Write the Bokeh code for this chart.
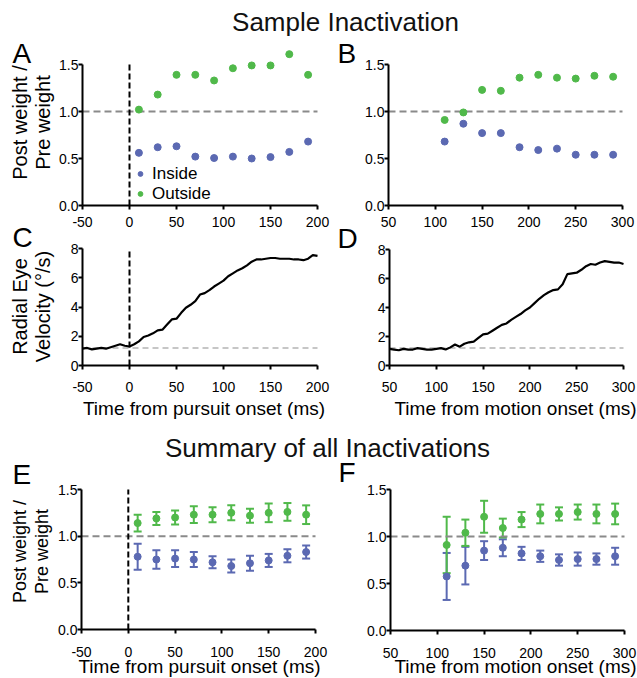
import math
from bokeh.plotting import figure
from bokeh.models import (Range1d, FixedTicker, NumeralTickFormatter, Label, LinearAxis,
                          Legend, LegendItem, Whisker, ColumnDataSource, TeeHead)
from bokeh.embed import file_html
from bokeh.resources import INLINE

# ---------------- data ----------------
# Panel A: sample inactivation, aligned on pursuit onset
pursuit_bins = [10, 30, 50, 70, 90, 110, 130, 150, 170, 190]
sample_pursuit_inside = [0.56, 0.62, 0.63, 0.52, 0.505, 0.52, 0.50, 0.515, 0.57, 0.68]
sample_pursuit_outside = [1.02, 1.18, 1.39, 1.39, 1.33, 1.46, 1.49, 1.49, 1.61, 1.39]

# Panel B: sample inactivation, aligned on motion onset
motion_bins = [110, 130, 150, 170, 190, 210, 230, 250, 270, 290]
sample_motion_inside = [0.68, 0.87, 0.77, 0.77, 0.62, 0.59, 0.605, 0.54, 0.54, 0.54]
sample_motion_outside = [0.91, 0.99, 1.23, 1.22, 1.36, 1.39, 1.36, 1.35, 1.38, 1.37]

# Panel C: radial eye velocity vs time from pursuit onset
vel_pursuit_time = list(range(-50, 201, 5))
vel_pursuit = [1.15, 1.2, 1.1, 1.15, 1.2, 1.15, 1.25, 1.35, 1.45, 1.35,
               1.3, 1.45, 1.65, 1.95, 2.05, 2.2, 2.4, 2.45, 2.8, 3.15,
               3.2, 3.6, 3.95, 4.15, 4.4, 4.85, 4.95, 5.15, 5.4, 5.6,
               5.8, 6.1, 6.3, 6.5, 6.65, 6.85, 7.1, 7.25, 7.25, 7.3,
               7.35, 7.35, 7.3, 7.3, 7.3, 7.25, 7.25, 7.2, 7.3, 7.55, 7.5]

# Panel D: radial eye velocity vs time from motion onset
vel_motion_time = list(range(50, 301, 5))
vel_motion = [1.15, 1.1, 1.05, 1.15, 1.1, 1.1, 1.2, 1.15, 1.1, 1.1,
              1.15, 1.2, 1.1, 1.25, 1.45, 1.3, 1.5, 1.6, 1.65, 1.9,
              2.15, 2.2, 2.4, 2.6, 2.8, 2.9, 3.15, 3.35, 3.55, 3.8,
              4.0, 4.3, 4.6, 4.85, 5.05, 5.2, 5.25, 5.6, 6.3, 6.35,
              6.4, 6.6, 6.85, 7.0, 6.95, 7.1, 7.2, 7.15, 7.1, 7.1, 7.0]
baseline_velocity = 1.2

# Panel E: summary, pursuit onset (mean, error)
sum_pursuit_inside = [0.78, 0.75, 0.76, 0.75, 0.72, 0.68, 0.71, 0.74, 0.79, 0.83]
sum_pursuit_inside_err = [0.14, 0.10, 0.09, 0.08, 0.065, 0.07, 0.08, 0.07, 0.07, 0.07]
sum_pursuit_outside = [1.14, 1.19, 1.20, 1.23, 1.23, 1.25, 1.22, 1.25, 1.26, 1.23]
sum_pursuit_outside_err = [0.09, 0.07, 0.075, 0.09, 0.08, 0.08, 0.075, 0.10, 0.095, 0.10]

# Panel F: summary, motion onset (mean, error)
sum_motion_inside = [0.575, 0.69, 0.85, 0.88, 0.82, 0.79, 0.75, 0.76, 0.76, 0.79]
sum_motion_inside_err = [0.25, 0.20, 0.10, 0.09, 0.07, 0.06, 0.06, 0.07, 0.06, 0.09]
sum_motion_outside = [0.91, 1.04, 1.21, 1.09, 1.18, 1.24, 1.24, 1.26, 1.24, 1.24]
sum_motion_outside_err = [0.30, 0.14, 0.17, 0.10, 0.08, 0.10, 0.07, 0.08, 0.10, 0.11]

pursuit_ticks = [-50, 0, 50, 100, 150, 200]
motion_ticks = [50, 100, 150, 200, 250, 300]
weight_ticks = [0.0, 0.5, 1.0, 1.5]
velocity_ticks = [0, 2, 4, 6, 8]
pursuit_span = (-50, 200)
motion_span = (50, 300)
weight_span = (0, 1.5)
velocity_span = (0, 8)
onset = 0
unity = 1.0

# ---------------- style / geometry ----------------
FONT = "Liberation Sans"
BLUE = "#5b69b2"
GREEN = "#50b94a"
GRAY = "#8a8a8a"
LIGHT = "#b4b4b4"
W, H = 637, 678

# panel frames in page pixels: (x at span start, x at span end, y(px) at span bottom, y(px) at span top)
FRAMES = {
    "A": (82, 317, 205, 64),
    "B": (388, 622, 205, 64),
    "C": (82, 317, 365, 248),
    "D": (389, 623, 365, 249),
    "E": (81, 315, 629, 489),
    "F": (390, 624, 630, 489),
}

p = figure(width=W, height=H, x_range=Range1d(0, W), y_range=Range1d(0, H),
           x_axis_type=None, y_axis_type=None, output_backend="svg", toolbar_location=None,
           title_location=None, min_border=0, outline_line_color=None)


def add_panel(name, xspan, yspan, xticks, yticks, yfmt, xstand):
    pxa, pxb, pya, pyb = FRAMES[name]
    xa, xb = xspan
    ya, yb = yspan
    sx = (pxb - pxa) / (xb - xa)
    sy = (pya - pyb) / (yb - ya)
    p.extra_x_ranges[name] = Range1d(xa - pxa / sx, xb + (W - pxb) / sx)
    p.extra_y_ranges[name] = Range1d(ya - (H - pya) / sy, yb + pyb / sy)
    xax = LinearAxis(x_range_name=name, y_range_name=name, fixed_location=ya, bounds=xspan,
                     ticker=FixedTicker(ticks=xticks), formatter=NumeralTickFormatter(format="0"))
    yax = LinearAxis(x_range_name=name, y_range_name=name, fixed_location=xa, bounds=yspan,
                     ticker=FixedTicker(ticks=yticks), formatter=NumeralTickFormatter(format=yfmt))
    for ax, st in ((xax, xstand), (yax, 0)):
        ax.axis_line_width = 2
        ax.axis_line_color = "black"
        ax.major_tick_line_width = 2
        ax.major_tick_line_color = "black"
        ax.major_tick_out = 4
        ax.major_tick_in = 0
        ax.minor_tick_line_color = None
        ax.major_label_text_font = FONT
        ax.major_label_text_font_size = "14px"
        ax.major_label_text_color = "black"
        ax.major_label_standoff = st
    p.add_layout(xax, "below")
    p.add_layout(yax, "left")
    return dict(x_range_name=name, y_range_name=name)


def text(txt, px, py, size, align="left", angle=0.0, lh=1.2, color="black"):
    p.add_layout(Label(x=px, y=H - py, text=txt, angle=angle, text_font=FONT,
                       text_font_size=size, text_color=color, text_align=align,
                       text_baseline="middle", text_line_height=lh))


def hline(rn, level, xspan, color, width, dash):
    p.segment(x0=[xspan[0]], y0=[level], x1=[xspan[1]], y1=[level], line_color=color,
              line_width=width, line_dash=dash, **rn)


def onset_line(rn, yspan):
    p.segment(x0=[onset], y0=[yspan[0]], x1=[onset], y1=[yspan[1]], line_color="black",
              line_width=2, line_dash="6 3", **rn)


def summary(rn, bins, mean, err, color):
    src = ColumnDataSource(dict(x=bins, y=mean,
                                upper=[m + e for m, e in zip(mean, err)],
                                lower=[m - e for m, e in zip(mean, err)]))
    p.add_layout(Whisker(base="x", upper="upper", lower="lower", source=src,
                         line_color=color, line_width=2,
                         upper_head=TeeHead(size=8, line_color=color, line_width=2),
                         lower_head=TeeHead(size=8, line_color=color, line_width=2), **rn))
    p.scatter("x", "y", source=src, size=7, color=color, **rn)


# ---------------- A ----------------
rA = add_panel("A", pursuit_span, weight_span, pursuit_ticks, weight_ticks, "0.0", 7)
hline(rA, unity, pursuit_span, GRAY, 2, "7 4")
onset_line(rA, weight_span)
rin = p.scatter(pursuit_bins, sample_pursuit_inside, size=7, color=BLUE, **rA)
rout = p.scatter(pursuit_bins, sample_pursuit_outside, size=7, color=GREEN, **rA)
p.add_layout(Legend(items=[LegendItem(label="Inside", renderers=[rin]),
                           LegendItem(label="Outside", renderers=[rout])],
                    location=(134, H - 203.5), border_line_color=None, background_fill_alpha=0,
                    padding=0, margin=0, spacing=0, glyph_width=12, glyph_height=17,
                    label_height=17, label_standoff=6, label_text_font=FONT,
                    label_text_font_size="17px", label_text_color="black"))

# ---------------- B ----------------
rB = add_panel("B", motion_span, weight_span, motion_ticks, weight_ticks, "0.0", 7)
hline(rB, unity, motion_span, GRAY, 2, "7 4")
p.scatter(motion_bins, sample_motion_inside, size=7, color=BLUE, **rB)
p.scatter(motion_bins, sample_motion_outside, size=7, color=GREEN, **rB)

# ---------------- C ----------------
rC = add_panel("C", pursuit_span, velocity_span, pursuit_ticks, velocity_ticks, "0", 12)
hline(rC, baseline_velocity, pursuit_span, LIGHT, 1.5, "6 4")
onset_line(rC, velocity_span)
p.line(vel_pursuit_time, vel_pursuit, line_color="black", line_width=2.2, **rC)

# ---------------- D ----------------
rD = add_panel("D", motion_span, velocity_span, motion_ticks, velocity_ticks, "0", 12)
hline(rD, baseline_velocity, motion_span, LIGHT, 1.5, "6 4")
p.line(vel_motion_time, vel_motion, line_color="black", line_width=2.2, **rD)

# ---------------- E ----------------
rE = add_panel("E", pursuit_span, weight_span, pursuit_ticks, weight_ticks, "0.0", 13)
hline(rE, unity, pursuit_span, GRAY, 2, "7 4")
onset_line(rE, weight_span)
summary(rE, pursuit_bins, sum_pursuit_inside, sum_pursuit_inside_err, BLUE)
summary(rE, pursuit_bins, sum_pursuit_outside, sum_pursuit_outside_err, GREEN)

# ---------------- F ----------------
rF = add_panel("F", motion_span, weight_span, motion_ticks, weight_ticks, "0.0", 13)
hline(rF, unity, motion_span, GRAY, 2, "7 4")
summary(rF, motion_bins, sum_motion_inside, sum_motion_inside_err, BLUE)
summary(rF, motion_bins, sum_motion_outside, sum_motion_outside_err, GREEN)

# ---------------- texts ----------------
text("Sample Inactivation", 345, 21, "26px", align="center", color="#111111")
text("Summary of all Inactivations", 327, 447.5, "26px", align="center", color="#111111")

for letter, lx, ly in (("A", 12, 52.5), ("B", 337, 52.5), ("C", 12, 236.5),
                       ("D", 337, 237.5), ("E", 12, 474), ("F", 338, 472)):
    text(letter, lx, ly, "28px")

text("Post weight /\nPre weight", 31, 122, "20px", align="center", angle=math.pi / 2, lh=1.05)
text("Radial Eye\nVelocity (°/s)", 31, 306, "20px", align="center", angle=math.pi / 2, lh=1.05)
text("Post weight /\nPre weight", 30, 551, "18px", align="center", angle=math.pi / 2, lh=1.1)

text("Time from pursuit onset (ms)", 203.5, 407.5, "19px", align="center")
text("Time from motion onset (ms)", 515, 407.5, "19px", align="center")
text("Time from pursuit onset (ms)", 199, 666, "19px", align="center")
text("Time from motion onset (ms)", 515, 666, "19px", align="center")

open("out.html", "w").write(file_html(p, INLINE))
